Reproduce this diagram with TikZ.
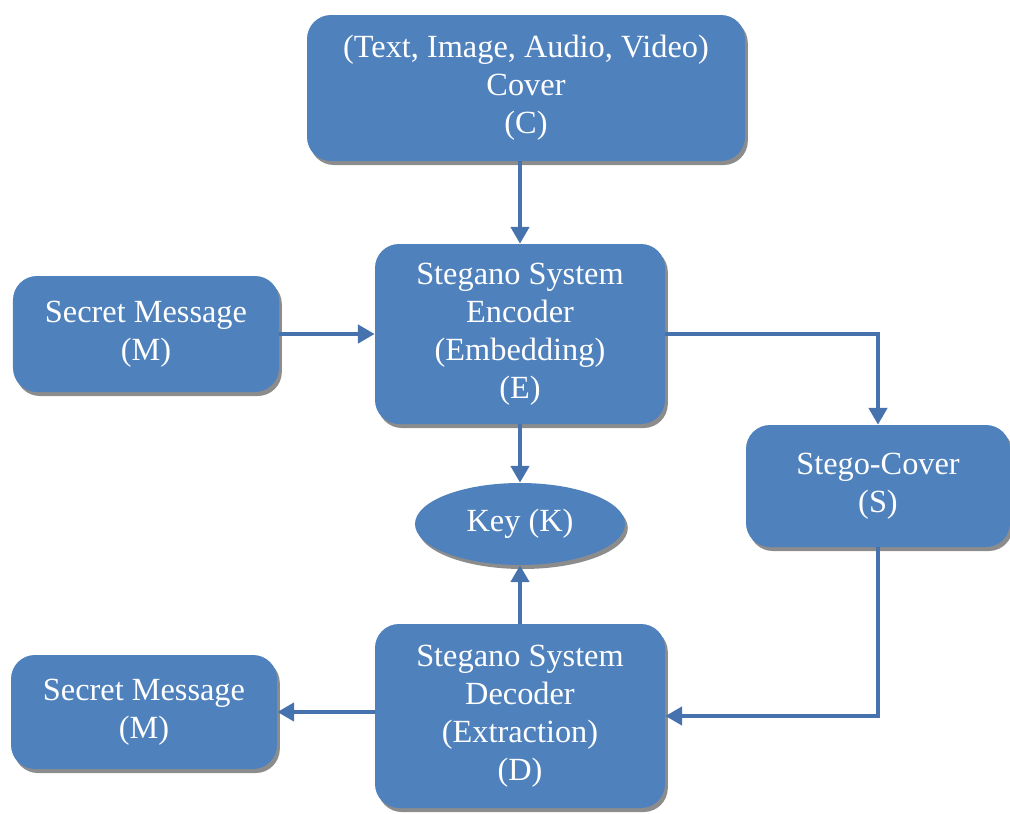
\documentclass[tikz,border=0pt]{standalone}
\usepackage{fontspec}
\setmainfont{Liberation Serif}
\usetikzlibrary{arrows.meta,shapes,shadows,positioning}
\definecolor{boxblue}{HTML}{4F81BD}
\definecolor{lineblue}{HTML}{4672AE}

\tikzset{
	blockbox/.style={rectangle, rounded corners=0.6cm, fill=boxblue, text=white, align=center,
		font=\fontsize{23}{27}\selectfont,
		drop shadow={shadow xshift=0.07cm, shadow yshift=-0.1cm, fill=black!45, opacity=1}},
	keyshape/.style={ellipse, fill=boxblue, text=white, inner sep=0pt,
		font=\fontsize{23}{27}\selectfont,
		drop shadow={shadow xshift=0.07cm, shadow yshift=-0.1cm, fill=black!45, opacity=1}},
	flow/.style={lineblue, line width=0.12cm, -{Triangle[width=0.45cm,length=0.42cm]}}
}

\begin{document}
\begin{tikzpicture}
	\useasboundingbox (0,0) rectangle (25.25,-20.35);
	
	% Blocks
	\node[blockbox, minimum width=10.95cm, minimum height=3.65cm] (cover) at (13.15,-2.2)
		{(Text, Image, Audio, Video)\\Cover\\(C)};
	\node[blockbox, minimum width=7.25cm, minimum height=4.5cm] (encoder) at (13.0,-8.35)
		{Stegano System\\Encoder\\(Embedding)\\(E)};
	\node[blockbox, minimum width=6.65cm, minimum height=2.9cm] (msgin) at (3.65,-8.35)
		{Secret Message\\(M)};
	\node[keyshape, minimum width=5.25cm, minimum height=2.05cm] (key) at (13.0,-13.1) {Key (K)};
	\node[blockbox, minimum width=6.6cm, minimum height=3.05cm] (stego) at (21.95,-12.15)
		{Stego-Cover\\(S)};
	\node[blockbox, minimum width=7.25cm, minimum height=4.6cm] (decoder) at (13.0,-17.9)
		{Stegano System\\Decoder\\(Extraction)\\(D)};
	\node[blockbox, minimum width=6.65cm, minimum height=2.85cm] (msgout) at (3.6,-17.8)
		{Secret Message\\(M)};
	
	% Connectors
	\draw[flow] (cover.south -| encoder.north) -- (encoder.north);
	\draw[flow] (msgin) -- (encoder);
	\draw[flow] (encoder.east) -| (stego.north);
	\draw[flow] (encoder) -- (key);
	\draw[flow] (decoder) -- (key);
	\draw[flow] (stego.south) |- (decoder.east);
	\draw[flow] (decoder.west |- msgout) -- (msgout);
\end{tikzpicture}
\end{document}
